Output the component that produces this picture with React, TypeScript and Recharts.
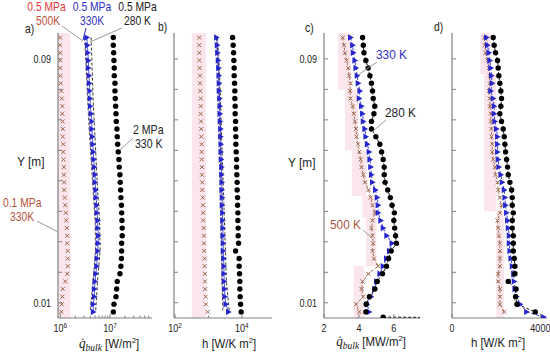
import React from 'react';
import { ScatterChart, Scatter, XAxis, YAxis, ReferenceArea } from 'recharts';

// wall distance of each sample row [m]
const yRow = [
  0.097, 0.0945, 0.092, 0.0895, 0.087, 0.0845, 0.082, 0.0795, 0.077, 0.0745,
  0.072, 0.0695, 0.067, 0.0645, 0.062, 0.0595, 0.057, 0.0545, 0.052, 0.0495,
  0.047, 0.0445, 0.042, 0.0395, 0.037, 0.0345, 0.032, 0.0295, 0.027, 0.0245,
  0.022, 0.0195, 0.017, 0.0145, 0.012, 0.0095, 0.007,
];
const yDash = [0.097, 0.087, 0.077, 0.067, 0.057, 0.047, 0.037, 0.027, 0.017, 0.007];
const yTicks = [0.01, 0.02, 0.03, 0.04, 0.05, 0.06, 0.07, 0.08, 0.09];

// a) q_bulk [W/m2]
const qA_01MPa330 = [
  0.99e6, 0.99e6, 1.0e6, 1.0e6, 1.0e6, 1.01e6, 1.02e6, 1.05e6, 1.07e6, 1.1e6,
  1.1e6, 1.11e6, 1.12e6, 1.12e6, 1.15e6, 1.15e6, 1.16e6, 1.18e6, 1.18e6, 1.2e6,
  1.2e6, 1.23e6, 1.26e6, 1.29e6, 1.32e6, 1.35e6, 1.38e6, 1.38e6, 1.41e6, 1.41e6,
  1.41e6, 1.38e6, 1.26e6, 1.12e6, 1.1e6, 1.07e6, 1.05e6,
];
const qA_05MPa330 = [
  3.42e6, 3.52e6, 3.58e6, 3.68e6, 3.68e6, 3.8e6, 3.85e6, 3.93e6, 3.98e6, 4.04e6,
  4.17e6, 4.31e6, 4.31e6, 4.43e6, 4.51e6, 4.63e6, 4.72e6, 4.85e6, 5.01e6, 5.01e6,
  5.18e6, 5.25e6, 5.42e6, 5.5e6, 5.68e6, 5.68e6, 5.83e6, 5.75e6, 5.68e6, 5.5e6,
  5.42e6, 5.18e6, 5.01e6, 4.85e6, 4.85e6, 4.6e6, 4.63e6,
];
const qA_2MPa330 = [
  11.65e6, 11.65e6, 11.86e6, 12.02e6, 12.19e6, 12.19e6, 12.59e6, 12.59e6, 12.76e6, 13.0e6,
  13.18e6, 13.37e6, 13.8e6, 14.0e6, 14.26e6, 14.66e6, 15.14e6, 15.35e6, 15.85e6, 16.07e6,
  16.37e6, 16.6e6, 17.0e6, 17.2e6, 17.4e6, 17.6e6, 17.6e6, 17.14e6, 17.14e6, 17.0e6,
  16.6e6, 15.85e6, 14.0e6, 13.6e6, 13.18e6, 12.02e6, 11.65e6,
];
const qA_05MPa500 = [3.09e6, 3.31e6, 3.55e6, 3.8e6, 4.17e6, 4.57e6, 5.01e6, 5.13e6, 4.57e6, 3.98e6];
const qA_05MPa280 = [4.17e6, 4.37e6, 4.57e6, 4.9e6, 5.25e6, 5.62e6, 6.17e6, 6.31e6, 5.62e6, 5.13e6];

// b) h [W/K m2]
const hB_01MPa330 = [
  532, 532, 532, 532, 546, 557, 557, 570, 585, 585,
  585, 597, 611, 611, 627, 627, 627, 640, 640, 653,
  653, 671, 685, 700, 700, 719, 734, 734, 750, 771,
  771, 787, 787, 803, 825, 842, 946,
];
const hB_05MPa330 = [
  1757, 1832, 1882, 1962, 2016, 2058, 2100, 2100, 2160, 2205,
  2205, 2250, 2313, 2313, 2361, 2361, 2410, 2477, 2477, 2529,
  2529, 2582, 2582, 2655, 2655, 2710, 2710, 2767, 2767, 2844,
  2904, 2904, 2965, 3048, 3110, 3327, 4009,
];
const hB_2MPa330 = [
  5277, 5500, 5655, 5770, 5890, 5890, 6055, 6180, 6180, 6310,
  6310, 6490, 6490, 6620, 6620, 6760, 6950, 6950, 7095, 7245,
  7245, 7445, 7445, 7600, 7600, 7760, 7760, 7970, 6490, 8300,
  8300, 8535, 8710, 8710, 8900, 9150, 9530,
];
const hB_05MPa500 = [1733, 1921, 2058, 2205, 2280, 2361, 2443, 2529, 2529, 2710];
const hB_05MPa280 = [1857, 2130, 2280, 2443, 2618, 2805, 3005, 3216, 3445, 4235];

// c) q_bulk [MW/m2], 0.5 MPa
const qC_500K = [
  3.07, 3.14, 3.2, 3.29, 3.39, 3.44, 3.52, 3.49, 3.52, 3.64,
  3.71, 3.77, 3.83, 3.87, 3.96, 4.02, 4.1, 4.15, 4.25, 4.35,
  4.55, 4.67, 4.78, 4.91, 4.78, 4.72, 4.78, 4.82, 4.78, 4.86,
  5.1, 4.53, 4.21, 4.15, 4.25, 3.83, 4.02,
];
const qC_330K = [
  3.52, 3.64, 3.68, 3.77, 3.83, 3.9, 3.96, 4.06, 4.02, 4.15,
  4.21, 4.25, 4.34, 4.4, 4.48, 4.59, 4.63, 4.68, 4.72, 4.78,
  4.95, 5.05, 5.1, 5.1, 5.25, 5.39, 5.6, 5.9, 5.75, 5.58,
  5.39, 5.2, 5.01, 4.91, 4.7, 4.47, 4.59,
];
const qC_280K = [
  4.21, 4.25, 4.29, 4.4, 4.53, 4.63, 4.72, 4.78, 4.82, 4.91,
  4.86, 4.72, 4.72, 4.97, 5.2, 5.3, 5.39, 5.45, 5.45, 5.5,
  5.65, 5.8, 5.9, 6.03, 6.0, 6.05, 6.1, 6.15, 5.85, 5.7,
  5.58, 5.35, 5.05, 4.91, 4.6, 4.42, 4.4,
];
const wallY = [0.0053, 0.0052];
const qC_280KWall = [5.39, 7.5];

// d) h [W/K m2], 0.5 MPa
const hD_500K = [
  1455, 1485, 1515, 1606, 1667, 1712, 1712, 1667, 1712, 1712,
  1758, 1758, 1788, 1788, 1818, 1818, 1864, 1939, 1970, 2061,
  2091, 2167, 2242, 2167, 2061, 2091, 2121, 2167, 2167, 2167,
  2167, 2091, 2091, 2167, 2167, 2167, 2364,
];
const hD_330K = [
  1561, 1606, 1667, 1712, 1758, 1788, 1818, 1758, 1864, 1909,
  1909, 1939, 2015, 2061, 2061, 2061, 2091, 2121, 2212, 2273,
  2364, 2394, 2424, 2470, 2515, 2545, 2591, 2591, 2621, 2667,
  2727, 2788, 2818, 2848, 2924, 3090, 3379,
];
const hD_330KWall = [4150];
const hD_280K = [
  1864, 1909, 1970, 2061, 2091, 2121, 2167, 2212, 2242, 2212,
  2167, 2242, 2318, 2364, 2394, 2424, 2470, 2515, 2545, 2621,
  2697, 2727, 2727, 2773, 2727, 2727, 2773, 2773, 2773, 2818,
  2848, 2848, 2545, 2900, 2880, 2940, 3770,
];

const BROWN = '#9a6446';
const BLUE = '#2626cc';
const AXIS = '#808080';
const PINK = '#fce6ee';
const FONT = "'Liberation Sans', Arial, sans-serif";
const SERIF = "'Liberation Serif', serif";

const pts = (xs: number[], ys: number[]) => xs.map((x, i) => ({ x, y: ys[i] }));

const Cross = (p: any) => {
  const { cx, cy } = p;
  if (cx == null) return <g />;
  return (
    <path
      d={`M${cx - 2},${cy - 2}L${cx + 2},${cy + 2}M${cx - 2},${cy + 2}L${cx + 2},${cy - 2}`}
      stroke={BROWN}
      strokeWidth={1}
      fill="none"
    />
  );
};
const Tri = (p: any) => {
  const { cx, cy } = p;
  if (cx == null) return <g />;
  return <path d={`M${cx - 2.5},${cy - 3.2}L${cx + 3.2},${cy}L${cx - 2.5},${cy + 3.2}Z`} fill={BLUE} />;
};
const Dot = (p: any) => {
  const { cx, cy } = p;
  if (cx == null) return <g />;
  return <circle cx={cx} cy={cy} r={2.7} fill="#000" />;
};
const NoMark = () => <g />;

const dashed = (stroke: string) => ({ stroke, strokeWidth: 0.9, strokeDasharray: '3 2', fill: 'none' });
const solid = (stroke: string) => ({ stroke, strokeWidth: 0.8, fill: 'none' });

// horizontally squeezed text, the source figure's lettering is narrow
function T(props: {
  x: number;
  y: number;
  size?: number;
  sx?: number;
  anchor?: 'start' | 'middle' | 'end';
  fill?: string;
  children: React.ReactNode;
}) {
  const { x, y, size = 12, sx = 0.86, anchor = 'start', fill = '#222', children } = props;
  return (
    <text
      transform={`translate(${x},${y}) scale(${sx},1)`}
      textAnchor={anchor}
      fontSize={size}
      fontFamily={FONT}
      fill={fill}
    >
      {children}
    </text>
  );
}

const sup = (base: string, exp: string) => (
  <>
    {base}
    <tspan dy={-4.5} fontSize={7.5}>{exp}</tspan>
  </>
);

const PL = 45, PR = 8, PT = 10, PB = 30, PH = 285, TOP = 33;

type Series = { data: { x: number; y: number }[]; shape: any; line?: any };
type Band = { x1: number; x2: number; y1: number; y2: number };

function Panel(props: {
  left: number;
  width: number;
  domain: [number, number];
  log?: boolean;
  xTicks: number[];
  xLabels: Record<string, React.ReactNode>;
  series: Series[];
  bands: Band[];
  yLabels?: boolean;
}) {
  const { left, width, domain, log, xTicks, xLabels, series, bands, yLabels } = props;
  const xTick = (p: any) => {
    const { x, y, payload } = p;
    const lab = xLabels[String(payload.value)];
    return (
      <g>
        <line x1={x} x2={x} y1={y} y2={y - (lab ? 4 : 2.5)} stroke={AXIS} />
        {lab ? (
          <T x={x} y={y + 14} size={10.5} sx={0.86} anchor="middle">
            {lab}
          </T>
        ) : null}
      </g>
    );
  };
  const yTick = (p: any) => {
    const { x, y, payload } = p;
    const v = payload.value;
    const lab = yLabels && (v === 0.01 || v === 0.09) ? String(v) : null;
    return (
      <g>
        <line x1={x} x2={x + 4} y1={y} y2={y} stroke={AXIS} />
        {lab ? (
          <T x={x - 7} y={y + 4} size={10.5} sx={0.86} anchor="end">
            {lab}
          </T>
        ) : null}
      </g>
    );
  };
  return (
    <div style={{ position: 'absolute', left: left - PL, top: TOP - PT }}>
      <ScatterChart
        width={width + PL + PR}
        height={PH + PT + PB}
        margin={{ top: PT, right: PR, left: 0, bottom: 0 }}
      >
        {bands.map((b, i) => (
          <ReferenceArea key={'b' + i} x1={b.x1} x2={b.x2} y1={b.y1} y2={b.y2} fill={PINK} fillOpacity={1} stroke="none" ifOverflow="hidden" />
        ))}
        <XAxis
          type="number"
          dataKey="x"
          scale={log ? 'log' : 'linear'}
          domain={domain}
          allowDataOverflow
          ticks={xTicks}
          interval={0}
          height={PB}
          tickSize={0}
          tickMargin={0}
          tickLine={false}
          axisLine={{ stroke: AXIS, strokeWidth: 1.2 }}
          tick={xTick}
        />
        <YAxis
          type="number"
          dataKey="y"
          domain={[0.005, 0.0985]}
          allowDataOverflow
          ticks={yTicks}
          interval={0}
          width={PL}
          tickSize={0}
          tickMargin={0}
          tickLine={false}
          axisLine={{ stroke: AXIS, strokeWidth: 1.2 }}
          tick={yTick}
        />
        {series.map((s, i) => (
          <Scatter
            key={i}
            data={s.data}
            shape={s.shape}
            line={s.line ?? false}
            lineJointType="linear"
            isAnimationActive={false}
          />
        ))}
      </ScatterChart>
    </div>
  );
}

export default function App() {
  const full = { y1: 0.005, y2: 0.0985 };
  return (
    <div style={{ position: 'absolute', left: 0, top: 0, width: 550, height: 354, background: '#fff' }}>
      <Panel
        left={58}
        width={94}
        domain={[9e5, 7e7]}
        log
        xTicks={[1e6, 2e6, 3e6, 4e6, 5e6, 6e6, 7e6, 8e6, 9e6, 1e7, 2e7, 3e7, 4e7, 5e7, 6e7]}
        xLabels={{ [String(1e6)]: sup('10', '6'), [String(1e7)]: sup('10', '7') }}
        bands={[{ x1: 9e5, x2: 1.6e6, ...full }]}
        yLabels
        series={[
          { data: pts(qA_01MPa330, yRow), shape: Cross },
          { data: pts(qA_05MPa500, yDash), shape: NoMark, line: dashed('#5a3a2a') },
          { data: pts(qA_05MPa280, yDash), shape: NoMark, line: dashed('#222') },
          { data: pts(qA_05MPa330, yRow), shape: Tri, line: solid(BLUE) },
          { data: pts(qA_2MPa330, yRow), shape: Dot },
        ]}
      />
      <Panel
        left={174}
        width={98}
        domain={[93, 8e4]}
        log
        xTicks={[100, 1000, 10000]}
        xLabels={{ '100': sup('10', '2'), '10000': sup('10', '4') }}
        bands={[{ x1: 320, x2: 850, ...full }]}
        series={[
          { data: pts(hB_01MPa330, yRow), shape: Cross },
          { data: pts(hB_05MPa500, yDash), shape: NoMark, line: dashed('#5a3a2a') },
          { data: pts(hB_05MPa280, yDash), shape: NoMark, line: dashed('#222') },
          { data: pts(hB_05MPa330, yRow), shape: Tri, line: solid(BLUE) },
          { data: pts(hB_2MPa330, yRow), shape: Dot },
        ]}
      />
      <Panel
        left={324}
        width={96}
        domain={[2, 7.5]}
        xTicks={[2, 4, 6]}
        xLabels={{ '2': '2', '4': '4', '6': '6' }}
        yLabels
        bands={[
          { x1: 2.8, x2: 3.55, y1: 0.08, y2: 0.0985 },
          { x1: 3.2, x2: 3.95, y1: 0.06, y2: 0.08 },
          { x1: 3.6, x2: 4.45, y1: 0.045, y2: 0.06 },
          { x1: 4.2, x2: 4.95, y1: 0.038, y2: 0.045 },
          { x1: 4.4, x2: 5.0, y1: 0.022, y2: 0.038 },
          { x1: 3.7, x2: 4.3, y1: 0.005, y2: 0.022 },
        ]}
        series={[
          { data: pts(qC_500K, yRow), shape: Cross, line: dashed(BROWN) },
          { data: pts(qC_330K, yRow), shape: Tri, line: dashed(BLUE) },
          { data: pts(qC_280K, yRow), shape: Dot, line: dashed('#000') },
          { data: pts(qC_280KWall, wallY), shape: NoMark, line: dashed('#000') },
          { data: pts(qC_280KWall.slice(0, 1), wallY), shape: Dot },
        ]}
      />
      <Panel
        left={452}
        width={95}
        domain={[0, 4300]}
        xTicks={[0, 4000]}
        xLabels={{ '0': '0', '4000': '4000' }}
        bands={[
          { x1: 1280, x2: 1730, y1: 0.085, y2: 0.0985 },
          { x1: 1450, x2: 2000, y1: 0.04, y2: 0.085 },
          { x1: 2000, x2: 2360, y1: 0.005, y2: 0.04 },
        ]}
        series={[
          { data: pts(hD_500K, yRow), shape: Cross, line: dashed(BROWN) },
          { data: [...pts(hD_330K, yRow), ...pts(hD_330KWall, wallY)], shape: Tri, line: dashed(BLUE) },
          { data: pts(hD_280K, yRow), shape: Dot, line: dashed('#000') },
        ]}
      />
      <svg
        width={550}
        height={354}
        style={{ position: 'absolute', left: 0, top: 0, pointerEvents: 'none' }}
      >
        {/* leader lines */}
        <g stroke="#9a9a9a" strokeWidth={1}>
          <line x1={62} y1={26} x2={83} y2={41} />
          <line x1={122} y1={28} x2={90} y2={42} />
          <line x1={133} y1={138} x2={120} y2={150} />
          <line x1={37} y1={221} x2={58} y2={232} />
          <line x1={377} y1={62} x2={358} y2={75} />
          <line x1={386} y1={120} x2={372} y2={132} />
          <line x1={363} y1={230} x2={372} y2={238} />
        </g>
        <line x1={86} y1={28} x2={83} y2={40} stroke={BLUE} strokeWidth={1} />

        <T x={46.5} y={11} anchor="middle" fill="#e23b3b">0.5 MPa</T>
        <T x={48} y={25} anchor="middle" fill="#b9503c">500K</T>
        <T x={92} y={11} anchor="middle" fill="#3030c0">0.5 MPa</T>
        <T x={92} y={25} anchor="middle" fill="#3030c0">330K</T>
        <T x={137.5} y={11} anchor="middle">0.5 MPa</T>
        <T x={137.5} y={25} anchor="middle">280 K</T>

        <T x={25} y={33}>a)</T>
        <T x={158} y={31}>b)</T>
        <T x={305} y={32}>c)</T>
        <T x={434} y={31}>d)</T>

        <T x={133} y={134} sx={0.88}>2 MPa</T>
        <T x={135} y={148} sx={0.88}>330 K</T>
        <T x={3} y={207} fill="#b5523b">0.1 MPa</T>
        <T x={10} y={221} fill="#b5523b">330K</T>

        <T x={376} y={59} size={12.5} sx={0.95} fill="#3030c0">330 K</T>
        <T x={385} y={117} size={12.5} sx={0.95}>280 K</T>
        <T x={330} y={229} size={12.5} sx={0.95} fill="#a9553f">500 K</T>

        <T x={17} y={166} size={12.5} sx={0.95}>Y [m]</T>
        <T x={288} y={167} size={12.5} sx={0.95}>Y [m]</T>

        <T x={229} y={348} size={12} sx={0.95} anchor="middle">
          h [W/K m<tspan dy={-5} fontSize={8}>2</tspan>
          <tspan dy={5}>]</tspan>
        </T>
        <T x={498} y={347} size={12} sx={0.95} anchor="middle">
          h [W/K m<tspan dy={-5} fontSize={8}>2</tspan>
          <tspan dy={5}>]</tspan>
        </T>

        <T x={109} y={348} size={12} sx={0.95} anchor="middle">
          <tspan fontFamily={SERIF} fontStyle="italic" fontSize={14}>{'q\u0307'}</tspan>
          <tspan fontFamily={SERIF} fontStyle="italic" fontSize={10} dy={3}>bulk</tspan>
          <tspan dy={-3}> [W/m</tspan>
          <tspan dy={-5} fontSize={8}>2</tspan>
          <tspan dy={5}>]</tspan>
        </T>
        <T x={371} y={346} size={12} sx={0.95} anchor="middle">
          <tspan fontFamily={SERIF} fontStyle="italic" fontSize={14}>{'q\u0307'}</tspan>
          <tspan fontFamily={SERIF} fontStyle="italic" fontSize={10} dy={3}>bulk</tspan>
          <tspan dy={-3}> [MW/m</tspan>
          <tspan dy={-5} fontSize={8}>2</tspan>
          <tspan dy={5}>]</tspan>
        </T>
      </svg>
    </div>
  );
}
